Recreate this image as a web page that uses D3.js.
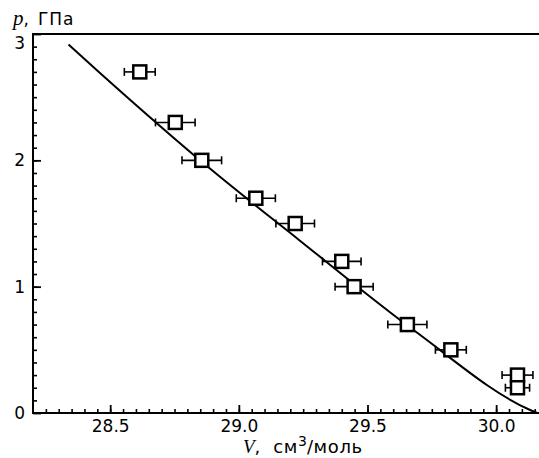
<!DOCTYPE html>
<html>
<head>
<meta charset="utf-8">
<script src="https://cdn.jsdelivr.net/npm/d3@7"></script>
<style>
  body { margin: 0; background: #fff; }
  svg { display: block; }
</style>
</head>
<body>
<script>
// measured points (V in cm3/mol, p in GPa) and horizontal error
const volume = [28.615, 28.753, 28.856, 29.066, 29.219, 29.40, 29.448, 29.655, 29.824, 30.083, 30.083];
const pressure = [2.7, 2.3, 2.0, 1.7, 1.5, 1.2, 1.0, 0.7, 0.5, 0.3, 0.2];
const volumeErr = [0.06, 0.077, 0.077, 0.076, 0.075, 0.075, 0.074, 0.076, 0.06, 0.06, 0.047];

// fitted curve
const fitVolume = [28.338, 28.457, 28.896, 29.235, 29.688, 30.132, 30.16];
const fitPressure = [2.917, 2.698, 1.921, 1.368, 0.643, 0.024, 0];

const xMajor = [28.5, 29.0, 29.5, 30.0];
const yMajor = [0, 1, 2, 3];

const width = 539, height = 458;

const x = d3.scaleLinear().domain([28.2, 30.2]).range([33, 547.6]);
const y = d3.scaleLinear().domain([0, 3]).range([413, 34]);

const svg = d3.select("body").append("svg")
  .attr("width", width)
  .attr("height", height);

// minor ticks
const xMinor = d3.range(28.25, 30.2, 0.05).map(v => +v.toFixed(2));
const yMinor = d3.range(0.1, 3, 0.1).map(v => +v.toFixed(1));

svg.append("g")
  .attr("transform", `translate(0,${y(0)})`)
  .call(d3.axisBottom(x).tickValues(xMinor).tickSize(-4).tickFormat(""))
  .call(g => g.select(".domain").remove())
  .call(g => g.selectAll("line").attr("stroke-width", 1.6));

svg.append("g")
  .attr("transform", `translate(${x(28.2)},0)`)
  .call(d3.axisLeft(y).tickValues(yMinor).tickSize(-4).tickFormat(""))
  .call(g => g.select(".domain").remove())
  .call(g => g.selectAll("line").attr("stroke-width", 1.6));

// major ticks + labels
svg.append("g")
  .attr("transform", `translate(0,${y(0)})`)
  .call(d3.axisBottom(x).tickValues(xMajor).tickSize(-8).tickPadding(7).tickFormat(d3.format(".1f")))
  .call(g => g.select(".domain").remove())
  .call(g => g.selectAll("line").attr("stroke-width", 1.8))
  .call(g => g.selectAll("text")
    .attr("fill", "#000")
    .style("font-family", "'DejaVu Sans', sans-serif")
    .style("font-size", "17px"));

svg.append("g")
  .attr("transform", `translate(${x(28.2)},0)`)
  .call(d3.axisLeft(y).tickValues(yMajor).tickSize(-8).tickPadding(8).tickFormat(d3.format("d")))
  .call(g => g.select(".domain").remove())
  .call(g => g.selectAll("line").attr("stroke-width", 1.8))
  .call(g => g.selectAll("text")
    .attr("fill", "#000")
    .style("font-family", "'DejaVu Sans', sans-serif")
    .style("font-size", "17px"))
  .call(g => g.selectAll(".tick").filter(d => d === 3).select("text").attr("y", 9));

// frame
svg.append("rect")
  .attr("x", x(28.2))
  .attr("y", y(3))
  .attr("width", x(30.2) - x(28.2))
  .attr("height", y(0) - y(3))
  .attr("fill", "none")
  .attr("stroke", "#000")
  .attr("stroke-width", 2);

// fit curve
const line = d3.line()
  .x((d, i) => x(fitVolume[i]))
  .y((d, i) => y(fitPressure[i]))
  .curve(d3.curveMonotoneX);

svg.append("path")
  .datum(fitVolume)
  .attr("d", line)
  .attr("fill", "none")
  .attr("stroke", "#000")
  .attr("stroke-width", 2);

// error bars
const points = volume.map((v, i) => ({ v: v, p: pressure[i], e: volumeErr[i] }));

const bars = svg.append("g")
  .attr("stroke", "#000")
  .attr("stroke-width", 1.6);

bars.selectAll(".err")
  .data(points)
  .enter()
  .append("line")
  .attr("x1", d => x(d.v - d.e))
  .attr("x2", d => x(d.v + d.e))
  .attr("y1", d => y(d.p))
  .attr("y2", d => y(d.p));

bars.selectAll(".capL")
  .data(points)
  .enter()
  .append("line")
  .attr("x1", d => x(d.v - d.e))
  .attr("x2", d => x(d.v - d.e))
  .attr("y1", d => y(d.p) - 4)
  .attr("y2", d => y(d.p) + 4);

bars.selectAll(".capR")
  .data(points)
  .enter()
  .append("line")
  .attr("x1", d => x(d.v + d.e))
  .attr("x2", d => x(d.v + d.e))
  .attr("y1", d => y(d.p) - 4)
  .attr("y2", d => y(d.p) + 4);

// square markers
const size = 13;
svg.append("g")
  .selectAll("rect")
  .data(points)
  .enter()
  .append("rect")
  .attr("x", d => x(d.v) - size / 2)
  .attr("y", d => y(d.p) - size / 2)
  .attr("width", size)
  .attr("height", size)
  .attr("fill", "#fff")
  .attr("stroke", "#000")
  .attr("stroke-width", 2.5);

// axis titles
const xTitle = svg.append("text")
  .attr("x", 243)
  .attr("y", 453)
  .attr("fill", "#000")
  .style("font-family", "'DejaVu Sans', sans-serif")
  .style("font-size", "18px");
xTitle.append("tspan")
  .style("font-family", "'Liberation Serif', serif")
  .style("font-style", "italic")
  .style("font-size", "19px")
  .text("V");
xTitle.append("tspan").text(",");
xTitle.append("tspan").attr("dx", 13).style("letter-spacing", "0.6px").text("см");
xTitle.append("tspan").attr("dy", -7).style("font-size", "14px").text("3");
xTitle.append("tspan").attr("dy", 7).style("letter-spacing", "0.6px").text("/моль");

const yTitle = svg.append("text")
  .attr("x", 13)
  .attr("y", 25)
  .attr("fill", "#000")
  .style("font-family", "'DejaVu Sans', sans-serif")
  .style("font-size", "17px");
yTitle.append("tspan")
  .style("font-family", "'Liberation Serif', serif")
  .style("font-style", "italic")
  .style("font-size", "21px")
  .text("p");
yTitle.append("tspan").text(",");
yTitle.append("tspan").attr("dx", 9).style("letter-spacing", "1px").text("ГПа");
</script>
</body>
</html>
